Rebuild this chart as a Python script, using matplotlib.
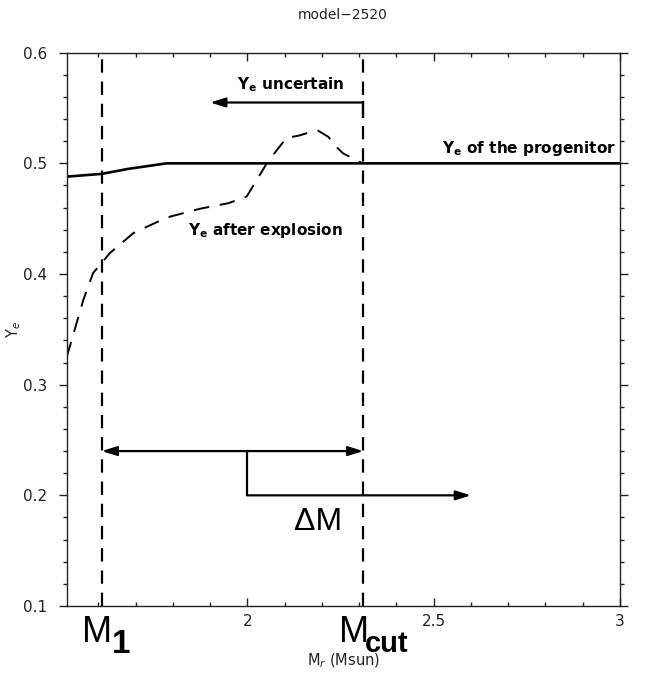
import matplotlib
matplotlib.use("Agg")
import matplotlib.pyplot as plt
from matplotlib.ticker import MultipleLocator, FixedLocator, FormatStrFormatter
import matplotlib.transforms as mtransforms

# ---- data ----
mr_prog = [1.515, 1.609, 1.68, 1.783, 3.0]
ye_prog = [0.488, 0.4905, 0.495, 0.500, 0.500]

mr_expl = [1.515, 1.560, 1.586, 1.609, 1.631, 1.694, 1.783, 1.873, 1.949, 1.998,
           2.052, 2.079, 2.105, 2.137, 2.177, 2.190, 2.217, 2.240, 2.257, 2.309]
ye_expl = [0.325, 0.377, 0.401, 0.410, 0.419, 0.437, 0.451, 0.459, 0.464, 0.470,
           0.500, 0.512, 0.523, 0.525, 0.529, 0.5295, 0.524, 0.5145, 0.509, 0.500]

m1 = 1.609
mcut = 2.311
ye_uncert_y = 0.555
ye_uncert_tip = 1.90
dm_y = 0.24
dm_split_x = 2.0
dm_arrow_y = 0.2
dm_arrow_tip = 2.6

title = "model\u22122520"
xlabel = r"M$_r$ (Msun)"
ylabel = r"Y$_e$"
xticks = [2.0, 2.5, 3.0]
xticklabels = ["2", "2.5", "3"]
yticks = [0.1, 0.2, 0.3, 0.4, 0.5, 0.6]

# ---- figure ----
fig = plt.figure(figsize=(6.45, 6.77), dpi=100)
W, H = 645, 677
left, right, top, bottom = 66.7, 620, 52.7, 606
ax = fig.add_axes([left / W, 1 - bottom / H, (right - left) / W, (bottom - top) / H])

ax.set_xlim(1.515, 3.0)
ax.set_ylim(0.1, 0.6)

ax.plot(mr_prog, ye_prog, color="k", lw=1.9, solid_capstyle="butt")
ax.plot(mr_expl, ye_expl, color="k", lw=1.4, linestyle=(0, (8, 5.5)))
for xv in (m1, mcut):
    ax.axvline(xv, color="k", lw=1.6, linestyle=(0, (6, 4)))

arrow_kw = dict(arrowstyle="-|>,head_length=0.9,head_width=0.28", lw=1.6,
                color="k", shrinkA=0, shrinkB=0)
# Ye uncertain arrow
ax.plot([mcut, mcut], [ye_uncert_y, 0.542], color="k", lw=1.6)
ax.annotate("", xy=(ye_uncert_tip, ye_uncert_y), xytext=(mcut, ye_uncert_y),
            arrowprops=arrow_kw)
# Delta M arrows
ax.annotate("", xy=(m1, dm_y), xytext=(mcut, dm_y),
            arrowprops=dict(arrowstyle="<|-|>,head_length=0.9,head_width=0.28",
                            lw=1.6, color="k", shrinkA=0, shrinkB=0))
ax.plot([dm_split_x, dm_split_x], [dm_y, dm_arrow_y], color="k", lw=1.6)
ax.annotate("", xy=(dm_arrow_tip, dm_arrow_y), xytext=(dm_split_x, dm_arrow_y),
            arrowprops=arrow_kw)

# annotations
ax.text(1.971, 0.567, r"Y$_\mathbf{e}$ uncertain", fontsize=11, fontweight="bold",
        ha="left", va="baseline")
ax.text(1.841, 0.435, r"Y$_\mathbf{e}$ after explosion", fontsize=11, fontweight="bold",
        ha="left", va="baseline")
ax.text(2.99, 0.509, r"Y$_\mathbf{e}$ of the progenitor", fontsize=11, fontweight="bold",
        ha="right", va="baseline")
ax.text(2.19, 0.176, "\u0394M", fontsize=23, family="Liberation Sans",
        ha="center", va="center")

trans = mtransforms.blended_transform_factory(ax.transData, ax.transAxes)
ax.text(1.556, -0.0645, "M", fontsize=26, family="Liberation Sans", transform=trans,
        ha="left", va="baseline", clip_on=False)
ax.text(1.636, -0.085, "1", fontsize=24, family="Liberation Sans", fontweight="bold",
        transform=trans, ha="left", va="baseline", clip_on=False)
ax.text(2.247, -0.0645, "M", fontsize=26, family="Liberation Sans", transform=trans,
        ha="left", va="baseline", clip_on=False)
ax.text(2.316, -0.083, "cut", fontsize=21, family="Liberation Sans", fontweight="bold",
        transform=trans, ha="left", va="baseline", clip_on=False)

# ticks
ax.xaxis.set_major_locator(FixedLocator(xticks))
ax.set_xticklabels(xticklabels)
ax.xaxis.set_minor_locator(MultipleLocator(0.1))
ax.yaxis.set_major_locator(FixedLocator(yticks))
ax.yaxis.set_major_formatter(FormatStrFormatter("%.1f"))
ax.yaxis.set_minor_locator(MultipleLocator(0.02))
ax.tick_params(axis="x", which="both", direction="in", top=True, bottom=True,
               color="#222222", width=1.0)
ax.tick_params(axis="y", which="both", direction="out", left=True, right=True,
               color="#222222", width=1.0)
ax.tick_params(which="major", length=5.8)
ax.tick_params(which="minor", length=3.0)
ax.tick_params(axis="x", which="major", labelsize=11, pad=6, labelcolor="#222222")
ax.tick_params(axis="y", which="major", labelsize=11, pad=8.4, labelcolor="#222222")
for sp in ax.spines.values():
    sp.set_linewidth(1.0)
    sp.set_color("#222222")

ax.set_xlabel(xlabel, fontsize=10.5, color="#222222")
ax.xaxis.set_label_coords(0.5, -0.083)
ax.xaxis.label.set_va("top")
ax.set_ylabel(ylabel, fontsize=10.5, color="#222222")
ax.yaxis.set_label_coords(-0.079, 0.5)

fig.text(0.532, 1 - 15 / H, title, fontsize=10, ha="center", va="center", color="#222222")

fig.savefig("out.png", dpi=100)
